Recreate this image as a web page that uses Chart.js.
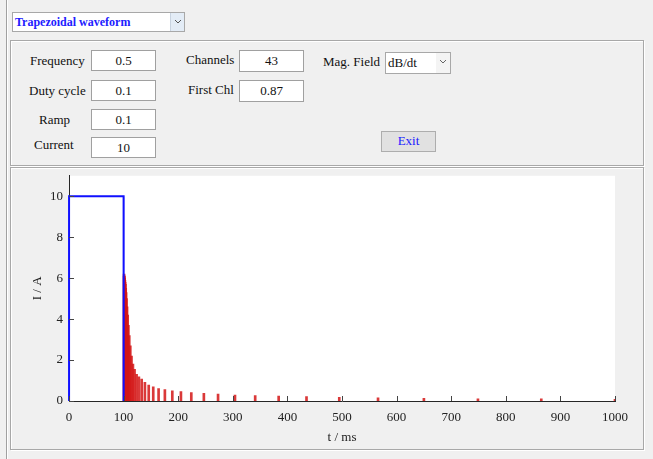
<!DOCTYPE html>
<html><head><meta charset="utf-8">
<script src="https://cdn.jsdelivr.net/npm/chart.js@4/dist/chart.umd.min.js"></script>
<style>
html,body{margin:0;padding:0;}
body{width:653px;height:459px;background:#f0f0f0;position:relative;overflow:hidden;font-family:"Liberation Serif","Times New Roman",serif;font-size:13px;color:#111;}
.abs{position:absolute;}
.vline{left:6px;top:0;width:1px;height:459px;background:#a0a0a0;}
.vline2{left:7px;top:0;width:1px;height:459px;background:#ffffff;}
.panel{border:1px solid #a8a8a8;box-shadow:inset 1px 1px 0 #ffffff, 1px 1px 0 #ffffff;}
.lbl{white-space:nowrap;line-height:16px;}
.box{background:#fff;border:1px solid #a0a0a0;box-sizing:border-box;text-align:center;line-height:19px;}
.dd{background:#fff;border:1px solid #a8a8a8;box-sizing:border-box;}
.ddbtn{position:absolute;right:0;top:0;bottom:0;width:13px;background:#e3ecf6;border-left:1px solid #c8d3e0;}
.ddbtn svg{position:absolute;left:3px;top:6px;}
.btn{background:#e1e1e1;border:1px solid #adadad;box-sizing:border-box;text-align:center;color:#1a1aff;line-height:18px;}
#chartwrap{left:14px;top:162px;width:628px;height:285px;}
</style></head>
<body>
<div class="abs vline"></div><div class="abs vline2"></div>

<div class="abs dd" style="left:12px;top:12px;width:173px;height:20px;">
  <span class="abs" style="left:2px;top:1px;font-weight:bold;font-size:12px;color:#2020ff;line-height:16px;">Trapezoidal waveform</span>
  <div class="ddbtn"><svg width="8" height="6"><path d="M1 1 L4 4 L7 1" stroke="#555" fill="none" stroke-width="1"/></svg></div>
</div>

<div class="abs panel" style="left:10px;top:40px;width:632px;height:124px;"></div>

<div class="abs lbl" style="left:30px;top:53px;">Frequency</div>
<div class="abs box" style="left:91px;top:50px;width:65px;height:21px;">0.5</div>
<div class="abs lbl" style="left:29px;top:83px;">Duty cycle</div>
<div class="abs box" style="left:91px;top:80px;width:65px;height:21px;">0.1</div>
<div class="abs lbl" style="left:39px;top:112px;">Ramp</div>
<div class="abs box" style="left:91px;top:109px;width:65px;height:21px;">0.1</div>
<div class="abs lbl" style="left:34px;top:137px;">Current</div>
<div class="abs box" style="left:91px;top:137px;width:65px;height:21px;">10</div>

<div class="abs lbl" style="left:186px;top:52px;">Channels</div>
<div class="abs box" style="left:239px;top:50px;width:65px;height:22px;">43</div>
<div class="abs lbl" style="left:188px;top:82px;">First Chl</div>
<div class="abs box" style="left:239px;top:80px;width:65px;height:22px;">0.87</div>

<div class="abs lbl" style="left:323px;top:54px;">Mag. Field</div>
<div class="abs dd" style="left:385px;top:52px;width:66px;height:22px;">
  <span class="abs" style="left:2px;top:2px;line-height:16px;">dB/dt</span>
  <div class="ddbtn" style="width:14px;background:#f4f4f4;border-left:none;"><svg width="8" height="6"><path d="M1 1 L4 4 L7 1" stroke="#666" fill="none" stroke-width="1"/></svg></div>
</div>
<div class="abs btn" style="left:381px;top:131px;width:55px;height:21px;">Exit</div>

<div class="abs panel" style="left:10px;top:167px;width:632px;height:281px;"></div>

<div class="abs" id="chartwrap"><canvas id="c" width="628" height="285"></canvas></div>

<script>
// Trapezoidal current waveform (ms, A)
const waveT = [0, 0.1, 100, 100.1];
const waveI = [0, 10, 10, 0];
// Channel (time gate) centres in ms and their dB/dt bar heights
const chTimes = [100.87, 101.03, 101.21, 101.43, 101.68, 101.99, 102.35, 102.77, 103.27, 103.85,
  104.55, 105.37, 106.33, 107.47, 108.81, 110.4, 112.3, 114.5, 117.1, 120.1,
  123.8, 128.0, 133.1, 139.0, 146.0, 154.3, 164.1, 175.6, 189.2, 205,
  224, 247, 273, 304, 341, 384, 435, 495, 566, 650, 749, 865, 1000];
const chHeights = [6.2, 6.1, 6.1, 6.0, 6.0, 5.9, 5.9, 5.8, 5.7, 5.5,
  5.3, 5.0, 4.6, 4.2, 3.7, 3.2, 2.7, 2.2, 1.8, 1.55,
  1.3, 1.18, 1.07, 0.91, 0.78, 0.69, 0.61, 0.56, 0.50, 0.46,
  0.41, 0.37, 0.34, 0.29, 0.26, 0.24, 0.21, 0.18, 0.16, 0.13, 0.11, 0.10, 0.08];
const xTicks = [0,100,200,300,400,500,600,700,800,900,1000];
const yTicks = [0,2,4,6,8,10];

const FONT = {family:"'Liberation Serif','Times New Roman',serif", size:13};

const inwardTicks = {
  id:'inwardTicks',
  beforeDraw(chart){
    const {ctx, chartArea:a} = chart;
    ctx.save(); ctx.fillStyle='#ffffff';
    ctx.fillRect(a.left, a.top, a.right-a.left, a.bottom-a.top);
    ctx.restore();
  },
  afterDraw(chart){
    const {ctx, scales:{x,y}, chartArea:a} = chart;
    ctx.save();
    ctx.strokeStyle='#444'; ctx.lineWidth=1;
    ctx.beginPath();
    xTicks.forEach(v=>{const px=Math.round(x.getPixelForValue(v))+0.5; ctx.moveTo(px,a.bottom); ctx.lineTo(px,a.bottom-5);});
    yTicks.forEach(v=>{const py=Math.round(y.getPixelForValue(v))+0.5; ctx.moveTo(a.left,py); ctx.lineTo(a.left+5,py);});
    ctx.stroke();
    ctx.restore();
  }
};

new Chart(document.getElementById('c'), {
  data:{
    datasets:[
      {type:'line', data: waveT.map((t,i)=>({x:t,y:waveI[i]})), borderColor:'#1010ff', borderWidth:2,
       pointRadius:0, tension:0, order:0, clip:false},
      {type:'bar', data: chTimes.map((t,i)=>({x:t,y:chHeights[i]})), backgroundColor:'rgba(212,22,22,0.85)',
       barThickness:2, grouped:false, order:1}
    ]
  },
  options:{
    responsive:false, animation:false,
    layout:{padding:{left:0,right:27,top:5,bottom:0}},
    plugins:{legend:{display:false}, tooltip:{enabled:false}},
    scales:{
      x:{type:'linear', min:0, max:1000, offset:false,
         grid:{display:false, drawTicks:false},
         border:{display:true, color:'#262626', width:1},
         ticks:{stepSize:100, color:'#222', font:FONT, padding:9, maxRotation:0, callback:v=>String(v)},
         title:{display:true, text:'t / ms', color:'#222', font:FONT, padding:{top:0,bottom:2}},
         afterFit(s){ s.height = 46; }},
      y:{type:'linear', min:0, max:11,
         grid:{display:false, drawTicks:false},
         border:{display:true, color:'#262626', width:1},
         ticks:{stepSize:2, includeBounds:false, color:'#222', font:FONT, padding:6, callback:v=>String(v)},
         title:{display:true, text:'I / A', color:'#222', font:FONT, padding:{top:16,bottom:0}},
         afterFit(s){ s.width = 55; }}
    }
  },
  plugins:[inwardTicks]
});
</script>
</body></html>
